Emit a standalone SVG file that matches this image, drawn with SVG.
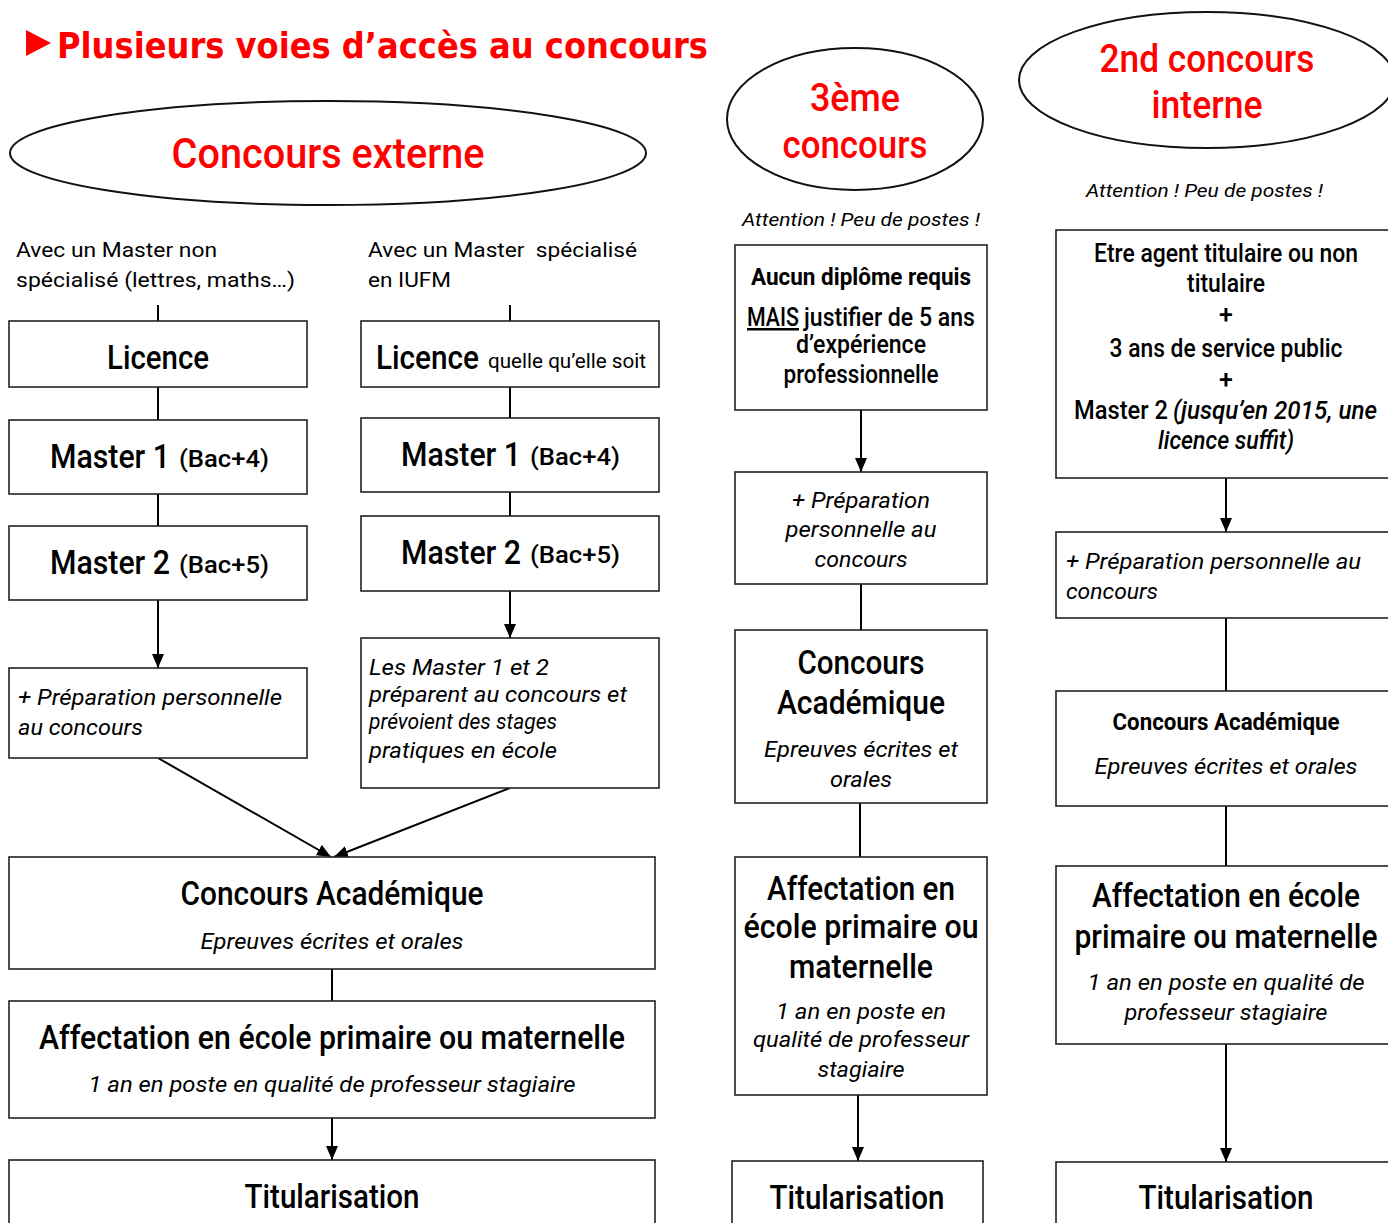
<svg xmlns="http://www.w3.org/2000/svg" width="1388" height="1223" viewBox="0 0 1388 1223">
<style>
  .bg{fill:#fff}
  .box{fill:#fff;stroke:#222;stroke-width:1.6}
  .ell{fill:#fff;stroke:#111;stroke-width:2}
  .con{stroke:#000;stroke-width:2;fill:none}
  .arr{stroke:#000;stroke-width:2;fill:none;marker-end:url(#ah)}
  text{font-family:Roboto,"Liberation Sans",sans-serif;fill:#000}
  .title{font-family:"DejaVu Sans","Liberation Sans",sans-serif;font-weight:bold;font-size:36px;fill:#ff0000}
  .ellt{font-size:42px;fill:#ff0000;font-weight:500}
  .h{font-size:33px;font-weight:500}
  .hb{font-size:24px;font-weight:700}
  .m{font-size:24px;font-weight:500}
  .sm{font-size:25px;font-weight:500}
  .it{font-size:22px;font-style:italic}
  .itr{font-size:19px;font-style:italic}
  .n{font-size:21px}
  .c{text-anchor:middle}
</style>
<defs>
  <marker id="ah" viewBox="0 0 14 12" refX="14" refY="6" markerWidth="14" markerHeight="12" markerUnits="userSpaceOnUse" orient="auto">
    <path d="M0,0 L14,6 L0,12 z" fill="#000"/>
  </marker>
</defs>
<rect class="bg" x="0" y="0" width="1388" height="1223"/>

<g id="title">
  <polygon points="26,30 51,43 26,56" fill="#ff0000"/>
  <text class="title" x="57" y="58" textLength="651" lengthAdjust="spacingAndGlyphs">Plusieurs voies d’accès au concours</text>
</g>

<g id="externe">
  <ellipse class="ell" cx="328" cy="153" rx="318" ry="52"/>
  <text class="ellt c" x="328" y="168" textLength="313" lengthAdjust="spacingAndGlyphs">Concours externe</text>
</g>
<g id="troisieme">
  <ellipse class="ell" cx="855" cy="119" rx="128" ry="71"/>
  <text class="ellt c" x="855" y="111" textLength="90" lengthAdjust="spacingAndGlyphs" style="font-size:38px">3ème</text>
  <text class="ellt c" x="855" y="158" textLength="145" lengthAdjust="spacingAndGlyphs" style="font-size:38px">concours</text>
</g>
<g id="interne">
  <ellipse class="ell" cx="1207" cy="80" rx="188" ry="68"/>
  <text class="ellt c" x="1207" y="72" textLength="215" lengthAdjust="spacingAndGlyphs" style="font-size:38px">2nd concours</text>
  <text class="ellt c" x="1207" y="118" textLength="111" lengthAdjust="spacingAndGlyphs" style="font-size:38px">interne</text>
</g>

<g id="notes">
  <text class="itr" x="742" y="226" textLength="238" lengthAdjust="spacingAndGlyphs">Attention ! Peu de postes !</text>
  <text class="itr" x="1086" y="197" textLength="237" lengthAdjust="spacingAndGlyphs">Attention ! Peu de postes !</text>
  <text class="n" x="16" y="257" textLength="201" lengthAdjust="spacingAndGlyphs">Avec un Master non</text>
  <text class="n" x="16" y="287" textLength="279" lengthAdjust="spacingAndGlyphs">spécialisé (lettres, maths…)</text>
  <text class="n" x="368" y="257" textLength="269" lengthAdjust="spacingAndGlyphs" xml:space="preserve">Avec un Master  spécialisé</text>
  <text class="n" x="368" y="287" textLength="83" lengthAdjust="spacingAndGlyphs">en IUFM</text>
</g>

<g id="connectors">
  <line class="con" x1="158" y1="305" x2="158" y2="321"/>
  <line class="con" x1="158" y1="387" x2="158" y2="420"/>
  <line class="con" x1="158" y1="494" x2="158" y2="526"/>
  <line class="arr" x1="158" y1="600" x2="158" y2="668"/>
  <line class="con" x1="510" y1="305" x2="510" y2="321"/>
  <line class="con" x1="510" y1="387" x2="510" y2="418"/>
  <line class="con" x1="510" y1="492" x2="510" y2="516"/>
  <line class="arr" x1="510" y1="591" x2="510" y2="638"/>
  <line class="arr" x1="158" y1="758" x2="331" y2="857"/>
  <line class="arr" x1="510" y1="788" x2="334" y2="857"/>
  <line class="con" x1="332" y1="969" x2="332" y2="1001"/>
  <line class="arr" x1="332" y1="1118" x2="332" y2="1160"/>
  <line class="arr" x1="861" y1="410" x2="861" y2="472"/>
  <line class="con" x1="861" y1="584" x2="861" y2="630"/>
  <line class="con" x1="860" y1="803" x2="860" y2="857"/>
  <line class="arr" x1="858" y1="1095" x2="858" y2="1161"/>
  <line class="arr" x1="1226" y1="478" x2="1226" y2="532"/>
  <line class="con" x1="1226" y1="618" x2="1226" y2="691"/>
  <line class="con" x1="1226" y1="806" x2="1226" y2="866"/>
  <line class="arr" x1="1226" y1="1044" x2="1226" y2="1162"/>
</g>

<g id="licence-a">
  <rect class="box" x="9" y="321" width="298" height="66"/>
  <text class="h c" x="158" y="369" textLength="102" lengthAdjust="spacingAndGlyphs">Licence</text>
</g>
<g id="master1-a">
  <rect class="box" x="9" y="420" width="298" height="74"/>
  <text class="h" x="50" y="468" textLength="120" lengthAdjust="spacingAndGlyphs">Master 1</text>
  <text class="m" x="179" y="467" textLength="90" lengthAdjust="spacingAndGlyphs">(Bac+4)</text>
</g>
<g id="master2-a">
  <rect class="box" x="9" y="526" width="298" height="74"/>
  <text class="h" x="50" y="574" textLength="120" lengthAdjust="spacingAndGlyphs">Master 2</text>
  <text class="m" x="179" y="573" textLength="90" lengthAdjust="spacingAndGlyphs">(Bac+5)</text>
</g>
<g id="prep-a">
  <rect class="box" x="9" y="668" width="298" height="90"/>
  <text class="it" x="18" y="705" textLength="264" lengthAdjust="spacingAndGlyphs">+ Préparation personnelle</text>
  <text class="it" x="18" y="735" textLength="125" lengthAdjust="spacingAndGlyphs">au concours</text>
</g>

<g id="licence-b">
  <rect class="box" x="361" y="321" width="298" height="66"/>
  <text class="h" x="376" y="369" textLength="103" lengthAdjust="spacingAndGlyphs">Licence</text>
  <text class="n" x="488" y="368" textLength="158" lengthAdjust="spacingAndGlyphs">quelle qu’elle soit</text>
</g>
<g id="master1-b">
  <rect class="box" x="361" y="418" width="298" height="74"/>
  <text class="h" x="401" y="466" textLength="120" lengthAdjust="spacingAndGlyphs">Master 1</text>
  <text class="m" x="530" y="465" textLength="90" lengthAdjust="spacingAndGlyphs">(Bac+4)</text>
</g>
<g id="master2-b">
  <rect class="box" x="361" y="516" width="298" height="75"/>
  <text class="h" x="401" y="564" textLength="120" lengthAdjust="spacingAndGlyphs">Master 2</text>
  <text class="m" x="530" y="563" textLength="90" lengthAdjust="spacingAndGlyphs">(Bac+5)</text>
</g>
<g id="iufm-b">
  <rect class="box" x="361" y="638" width="298" height="150"/>
  <text class="it" x="369" y="675" textLength="180" lengthAdjust="spacingAndGlyphs">Les Master 1 et 2</text>
  <text class="it" x="369" y="702" textLength="258" lengthAdjust="spacingAndGlyphs">préparent au concours et</text>
  <text class="it" x="369" y="729" textLength="188" lengthAdjust="spacingAndGlyphs">prévoient des stages</text>
  <text class="it" x="369" y="758" textLength="188" lengthAdjust="spacingAndGlyphs">pratiques en école</text>
</g>

<g id="concours-ext">
  <rect class="box" x="9" y="857" width="646" height="112"/>
  <text class="h c" x="332" y="905" textLength="303" lengthAdjust="spacingAndGlyphs">Concours Académique</text>
  <text class="it c" x="332" y="949" textLength="263" lengthAdjust="spacingAndGlyphs">Epreuves écrites et orales</text>
</g>
<g id="affect-ext">
  <rect class="box" x="9" y="1001" width="646" height="117"/>
  <text class="h c" x="332" y="1049" textLength="586" lengthAdjust="spacingAndGlyphs">Affectation en école primaire ou maternelle</text>
  <text class="it c" x="332" y="1092" textLength="487" lengthAdjust="spacingAndGlyphs">1 an en poste en qualité de professeur stagiaire</text>
</g>
<g id="titul-ext">
  <rect class="box" x="9" y="1160" width="646" height="90"/>
  <text class="h c" x="332" y="1208" textLength="175" lengthAdjust="spacingAndGlyphs">Titularisation</text>
</g>

<g id="cond-3e">
  <rect class="box" x="735" y="245" width="252" height="165"/>
  <text class="hb c" x="861" y="285" textLength="220" lengthAdjust="spacingAndGlyphs">Aucun diplôme requis</text>
  <text class="sm" x="747" y="326" textLength="52" lengthAdjust="spacingAndGlyphs" text-decoration="underline">MAIS</text>
  <text class="sm" x="804" y="326" textLength="171" lengthAdjust="spacingAndGlyphs">justifier de 5 ans</text>
  <text class="sm c" x="861" y="353" textLength="130" lengthAdjust="spacingAndGlyphs">d’expérience</text>
  <text class="sm c" x="861" y="383" textLength="155" lengthAdjust="spacingAndGlyphs">professionnelle</text>
</g>
<g id="prep-3e">
  <rect class="box" x="735" y="472" width="252" height="112"/>
  <text class="it c" x="861" y="508" textLength="138" lengthAdjust="spacingAndGlyphs">+ Préparation</text>
  <text class="it c" x="861" y="537" textLength="151" lengthAdjust="spacingAndGlyphs">personnelle au</text>
  <text class="it c" x="861" y="567" textLength="93" lengthAdjust="spacingAndGlyphs">concours</text>
</g>
<g id="concours-3e">
  <rect class="box" x="735" y="630" width="252" height="173"/>
  <text class="h c" x="861" y="674" textLength="127" lengthAdjust="spacingAndGlyphs">Concours</text>
  <text class="h c" x="861" y="714" textLength="168" lengthAdjust="spacingAndGlyphs">Académique</text>
  <text class="it c" x="861" y="757" textLength="194" lengthAdjust="spacingAndGlyphs">Epreuves écrites et</text>
  <text class="it c" x="861" y="787" textLength="62" lengthAdjust="spacingAndGlyphs">orales</text>
</g>
<g id="affect-3e">
  <rect class="box" x="735" y="857" width="252" height="238"/>
  <text class="h c" x="861" y="900" textLength="188" lengthAdjust="spacingAndGlyphs">Affectation en</text>
  <text class="h c" x="861" y="938" textLength="235" lengthAdjust="spacingAndGlyphs">école primaire ou</text>
  <text class="h c" x="861" y="978" textLength="144" lengthAdjust="spacingAndGlyphs">maternelle</text>
  <text class="it c" x="861" y="1019" textLength="170" lengthAdjust="spacingAndGlyphs">1 an en poste en</text>
  <text class="it c" x="861" y="1047" textLength="216" lengthAdjust="spacingAndGlyphs">qualité de professeur</text>
  <text class="it c" x="861" y="1077" textLength="87" lengthAdjust="spacingAndGlyphs">stagiaire</text>
</g>
<g id="titul-3e">
  <rect class="box" x="732" y="1161" width="251" height="90"/>
  <text class="h c" x="857" y="1209" textLength="175" lengthAdjust="spacingAndGlyphs">Titularisation</text>
</g>

<g id="cond-int">
  <rect class="box" x="1056" y="230" width="350" height="248"/>
  <text class="sm c" x="1226" y="262" textLength="264" lengthAdjust="spacingAndGlyphs">Etre agent titulaire ou non</text>
  <text class="sm c" x="1226" y="292" textLength="78" lengthAdjust="spacingAndGlyphs">titulaire</text>
  <text class="sm c" x="1226" y="323">+</text>
  <text class="sm c" x="1226" y="357" textLength="233" lengthAdjust="spacingAndGlyphs">3 ans de service public</text>
  <text class="sm c" x="1226" y="388">+</text>
  <text class="sm" x="1074" y="419" textLength="94" lengthAdjust="spacingAndGlyphs">Master 2</text>
  <text class="sm" x="1173" y="419" textLength="204" lengthAdjust="spacingAndGlyphs" style="font-style:italic">(jusqu’en 2015, une</text>
  <text class="sm c" x="1226" y="449" textLength="136" lengthAdjust="spacingAndGlyphs" style="font-style:italic">licence suffit)</text>
</g>
<g id="prep-int">
  <rect class="box" x="1056" y="532" width="350" height="86"/>
  <text class="it" x="1066" y="569" textLength="295" lengthAdjust="spacingAndGlyphs">+ Préparation personnelle au</text>
  <text class="it" x="1066" y="599" textLength="92" lengthAdjust="spacingAndGlyphs">concours</text>
</g>
<g id="concours-int">
  <rect class="box" x="1056" y="691" width="350" height="115"/>
  <text class="hb c" x="1226" y="730" textLength="227" lengthAdjust="spacingAndGlyphs">Concours Académique</text>
  <text class="it c" x="1226" y="774" textLength="263" lengthAdjust="spacingAndGlyphs">Epreuves écrites et orales</text>
</g>
<g id="affect-int">
  <rect class="box" x="1056" y="866" width="350" height="178"/>
  <text class="h c" x="1226" y="907" textLength="268" lengthAdjust="spacingAndGlyphs">Affectation en école</text>
  <text class="h c" x="1226" y="948" textLength="303" lengthAdjust="spacingAndGlyphs">primaire ou maternelle</text>
  <text class="it c" x="1226" y="990" textLength="277" lengthAdjust="spacingAndGlyphs">1 an en poste en qualité de</text>
  <text class="it c" x="1226" y="1020" textLength="203" lengthAdjust="spacingAndGlyphs">professeur stagiaire</text>
</g>
<g id="titul-int">
  <rect class="box" x="1056" y="1162" width="350" height="90"/>
  <text class="h c" x="1226" y="1209" textLength="175" lengthAdjust="spacingAndGlyphs">Titularisation</text>
</g>
</svg>
